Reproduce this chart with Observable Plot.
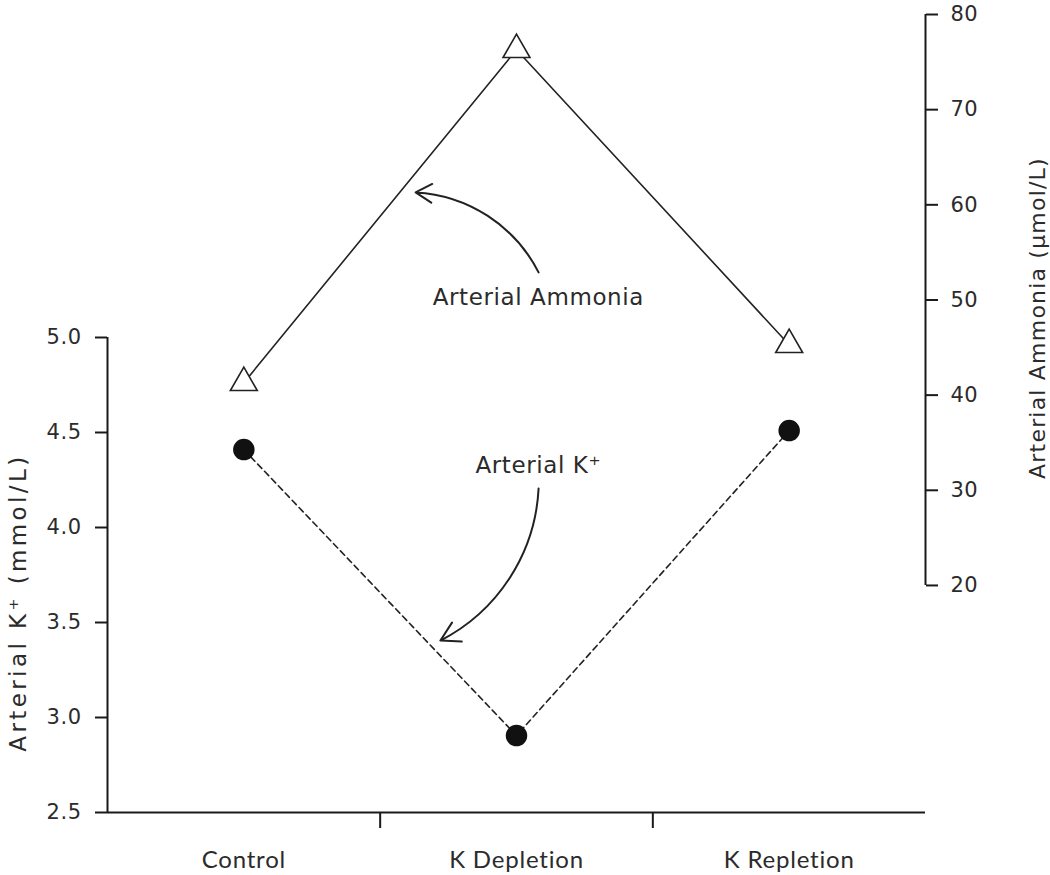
<!DOCTYPE html>
<html>
<head>
<meta charset="utf-8">
<script src="https://cdn.jsdelivr.net/npm/d3@7"></script>
<script src="https://cdn.jsdelivr.net/npm/@observablehq/plot@0.6"></script>
<style>
  html, body { margin: 0; padding: 0; background: #fff; }
  #chart { width: 1050px; height: 875px; }
</style>
</head>
<body>
<div id="chart"></div>
<script>
// ---- data ----
const categories = ["Control", "K Depletion", "K Repletion"];
const potassium = [4.41, 2.905, 4.51];      // Arterial K+ (mmol/L)
const ammonia = [41.3, 76.3, 45.3];         // Arterial Ammonia (µmol/L)
const kTicks = [2.5, 3.0, 3.5, 4.0, 4.5, 5.0];
const ammoniaTicks = [20, 30, 40, 50, 60, 70, 80];
const kDomain = [2.5, 5.0];
const ammoniaDomain = [20, 80];
// ammonia axis extent expressed on the K scale (right axis sits higher than left)
const ammoniaOnK = [3.695, 6.7];

const labels = [
  {text: "Arterial Ammonia", x: 1.08, ammonia: 50.2},
  {text: "Arterial K\u207A", x: 1.08, k: 4.326}
];
const arrowsAmmonia = [{x1: 1.081, a1: 52.9, x2: 0.63, a2: 61.3}];
const arrowsK = [{x1: 1.081, y1: 4.205, x2: 0.721, y2: 3.405}];
const titleLeft = "Arterial K\u207A (mmol/L)";
const titleRight = "Arterial Ammonia (\u00B5mol/L)";

// ---- helpers ----
const toK = d3.scaleLinear(ammoniaDomain, ammoniaOnK);
const idx = categories.map((c, i) => i);
const kData = idx.map(i => ({x: i, y: potassium[i]}));
const aData = idx.map(i => ({x: i, y: toK(ammonia[i])}));

const ink = "#1a1a1a";
const textInk = "#2b2b2b";

const chart = Plot.plot({
  width: 1050,
  height: 875,
  marginLeft: 107,
  marginRight: 125,
  marginTop: 14,
  marginBottom: 63,
  x: {domain: [-0.5, 2.5], range: [107, 925]},
  y: {domain: kDomain, range: [812, 337]},
  marks: [
    // axis lines
    Plot.ruleX([-0.5], {y1: kDomain[0], y2: kDomain[1], stroke: ink, strokeWidth: 2}),
    Plot.ruleX([2.5], {y1: toK(ammoniaDomain[0]), y2: toK(ammoniaDomain[1]), stroke: ink, strokeWidth: 2}),
    Plot.ruleY([kDomain[0]], {x1: -0.5, x2: 2.5, stroke: ink, strokeWidth: 2}),
    // left axis
    Plot.axisY(kTicks, {anchor: "left", tickSize: 12, tickPadding: 14, strokeWidth: 2, stroke: ink,
      tickFormat: d3.format(".1f"), fontSize: 21, fill: textInk, label: null, fontFamily: "DejaVu Sans"}),
    // right axis
    Plot.axisY(ammoniaTicks.map(toK), {anchor: "right", tickSize: 12, tickPadding: 13, strokeWidth: 2, stroke: ink,
      tickFormat: d => Math.round(toK.invert(d)), fontSize: 21, fill: textInk, label: null, fontFamily: "DejaVu Sans"}),
    // x axis: separator ticks and category labels
    Plot.axisX([0.5, 1.5], {anchor: "bottom", tickSize: 16, strokeWidth: 2, stroke: ink, tickFormat: () => "", label: null}),
    Plot.axisX(idx, {anchor: "bottom", tickSize: 0, tickPadding: 38, tickFormat: i => categories[i],
      fontSize: 24, fill: textInk, label: null, fontFamily: "Lato"}),
    // axis titles
    Plot.text([titleLeft], {x: -0.5, y: 3.605, dx: -89, rotate: -90, fontSize: 23,
      fill: textInk, fontFamily: "DejaVu Sans", text: d => d}),
    Plot.text([titleRight], {x: 2.5, y: toK(48.1), dx: 112, rotate: -90, fontSize: 22,
      fill: textInk, fontFamily: "DejaVu Sans", text: d => d}),
    // series
    Plot.line(aData, {x: "x", y: "y", stroke: "#222", strokeWidth: 1.6}),
    Plot.line(kData, {x: "x", y: "y", stroke: "#222", strokeWidth: 1.6, strokeDasharray: "6,4"}),
    Plot.dot(aData, {x: "x", y: "y", symbol: "triangle", r: 10, fill: "white", stroke: "#222", strokeWidth: 1.6}),
    Plot.dot(kData, {x: "x", y: "y", r: 10, fill: "#111", stroke: "#111"}),
    // annotations
    Plot.arrow(arrowsAmmonia, {x1: "x1", y1: d => toK(d.a1), x2: "x2", y2: d => toK(d.a2), bend: -30,
      stroke: "#222", strokeWidth: 2, headLength: 14}),
    Plot.arrow(arrowsK, {x1: "x1", y1: "y1", x2: "x2", y2: "y2", bend: 30,
      stroke: "#222", strokeWidth: 2, headLength: 16}),
    Plot.text(labels, {x: "x", y: d => d.k ?? toK(d.ammonia), text: "text", fontSize: 23,
      fill: textInk, fontFamily: "DejaVu Sans"})
  ]
});
document.getElementById("chart").appendChild(chart);

// letter spacing tweaks to match the reference's wide type
const spacing = new Map([
  [titleLeft, 3.4], [titleRight, 1.2],
  ["Arterial Ammonia", 0.6], ["Arterial K\u207A", 0.6]
]);
d3.select(chart).selectAll("text").each(function() {
  const t = this.textContent;
  let ls = spacing.get(t);
  if (ls == null && categories.includes(t)) ls = 0.8;
  if (ls == null && /^\d/.test(t)) ls = 0.5;
  if (ls != null) this.style.letterSpacing = ls + "px";
});
</script>
</body>
</html>
